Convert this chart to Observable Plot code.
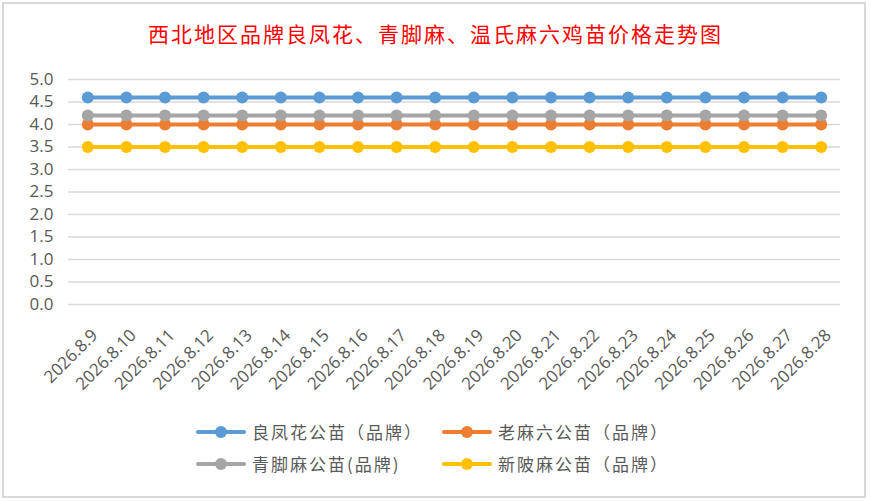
<!DOCTYPE html>
<html><head><meta charset="utf-8">
<script src="https://cdn.jsdelivr.net/npm/d3@7"></script>
<script src="https://cdn.jsdelivr.net/npm/@observablehq/plot@0.6"></script>
<style>
html,body{margin:0;padding:0;background:#fff;}
#wrap{position:relative;width:871px;height:501px;overflow:hidden;background:#fff;}
#frame{position:absolute;left:2px;top:2px;width:860px;height:492px;border:2px solid #d9d9d9;box-sizing:content-box;}
#title{position:absolute;left:0;top:18px;width:871px;text-align:center;color:#ff0000;font-family:"Noto Sans CJK SC";font-size:21px;letter-spacing:2px;line-height:30px;}
#chart{position:absolute;left:0;top:50px;}
#chart svg{overflow:visible;}
.leg{position:absolute;font-family:"Noto Sans CJK SC";font-size:17px;color:#595959;letter-spacing:2px;line-height:24px;white-space:nowrap;}
.leg svg{position:absolute;left:0;top:0;}
.leg span{position:absolute;top:0;}
</style></head>
<body><div id="wrap"><div id="frame"></div><div id="title">西北地区品牌良凤花、青脚麻、温氏麻六鸡苗价格走势图</div><div id="chart"></div></div>
<script>
const dates = ["2026.8.9","2026.8.10","2026.8.11","2026.8.12","2026.8.13","2026.8.14","2026.8.15","2026.8.16","2026.8.17","2026.8.18","2026.8.19","2026.8.20","2026.8.21","2026.8.22","2026.8.23","2026.8.24","2026.8.25","2026.8.26","2026.8.27","2026.8.28"];
const liangfenghua = [4.6,4.6,4.6,4.6,4.6,4.6,4.6,4.6,4.6,4.6,4.6,4.6,4.6,4.6,4.6,4.6,4.6,4.6,4.6,4.6];
const laomaliu = [4.0,4.0,4.0,4.0,4.0,4.0,4.0,4.0,4.0,4.0,4.0,4.0,4.0,4.0,4.0,4.0,4.0,4.0,4.0,4.0];
const qingjiaoma = [4.2,4.2,4.2,4.2,4.2,4.2,4.2,4.2,4.2,4.2,4.2,4.2,4.2,4.2,4.2,4.2,4.2,4.2,4.2,4.2];
const xinpoma = [3.5,3.5,3.5,3.5,3.5,3.5,3.5,3.5,3.5,3.5,3.5,3.5,3.5,3.5,3.5,3.5,3.5,3.5,3.5,3.5];
const seriesNames = ["良凤花公苗（品牌）","老麻六公苗（品牌）","青脚麻公苗(品牌)","新陂麻公苗（品牌）"];
const seriesValues = [liangfenghua, laomaliu, qingjiaoma, xinpoma];
const seriesColors = ["#5b9bd5","#ed7d31","#a5a5a5","#ffc000"];
const yTicks = [0,0.5,1,1.5,2,2.5,3,3.5,4,4.5,5];

const marks = [
  Plot.gridY(yTicks, {stroke:"#d9d9d9", strokeOpacity:1, strokeWidth:1.5})
];
seriesNames.forEach((name, i) => {
  const rows = dates.map((d, j) => ({date:d, value:seriesValues[i][j], series:name}));
  marks.push(Plot.line(rows, {x:"date", y:"value", stroke:seriesColors[i], strokeWidth:4}));
  marks.push(Plot.dot(rows, {x:"date", y:"value", fill:seriesColors[i], r:6}));
});
marks.push(Plot.axisY(yTicks, {tickSize:0, tickPadding:15, tickFormat:d3.format(".1f"), label:null, fill:"#595959", fontSize:17}));
marks.push(Plot.axisX({tickSize:0, tickPadding:28, dx:7, tickRotate:-45, label:null, fill:"#595959", fontSize:17}));

const chart = Plot.plot({
  width:871, height:360,
  marginLeft:68, marginRight:31, marginTop:29, marginBottom:106,
  style:{fontFamily:"'Open Sans'", background:"transparent", color:"#595959", overflow:"visible"},
  x:{type:"point", domain:dates, padding:0.5, round:false},
  y:{domain:[0,5]},
  marks
});
document.getElementById("chart").appendChild(chart);

const wrap = document.getElementById("wrap");
const legPos = [[196,420],[442,420],[196,452],[442,452]];
seriesNames.forEach((name, i) => {
  const div = document.createElement("div");
  div.className = "leg";
  div.style.left = legPos[i][0] + "px";
  div.style.top = legPos[i][1] + "px";
  div.style.width = "240px"; div.style.height = "24px";
  div.innerHTML = `<svg width="50" height="24"><line x1="2" x2="48" y1="12" y2="12" stroke="${seriesColors[i]}" stroke-width="4" stroke-linecap="round"/><circle cx="25" cy="12" r="6" fill="${seriesColors[i]}"/></svg><span style="left:56px">${name}</span>`;
  wrap.appendChild(div);
});
</script></body></html>
